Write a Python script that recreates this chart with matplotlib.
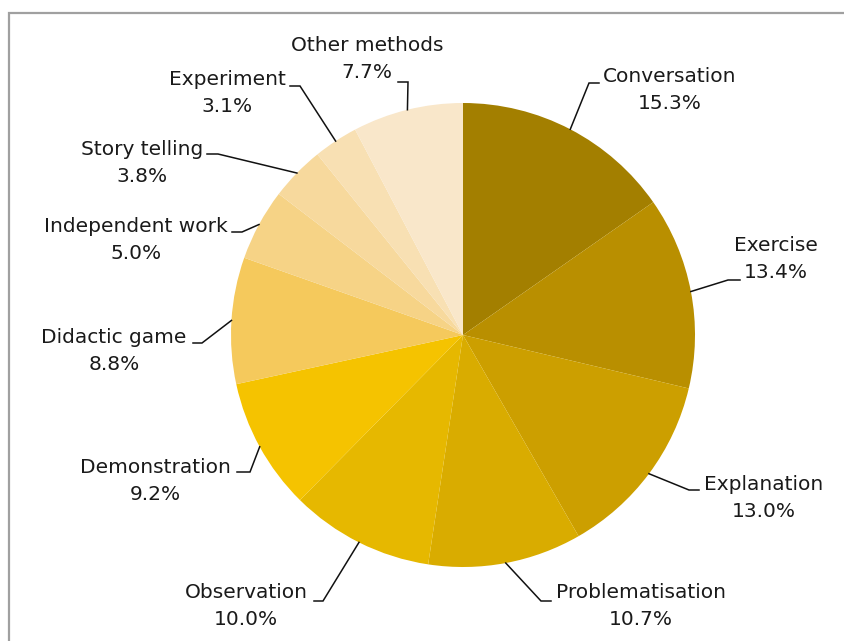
import numpy as np
import matplotlib.pyplot as plt

methods = ["Conversation", "Exercise", "Explanation", "Problematisation",
           "Observation", "Demonstration", "Didactic game", "Independent work",
           "Story telling", "Experiment", "Other methods"]
shares = [15.3, 13.4, 13.0, 10.7, 10.0, 9.2, 8.8, 5.0, 3.8, 3.1, 7.7]
colors = ["#a37f00", "#b98f00", "#cc9f00", "#d9ac00", "#e6b800", "#f5c300",
          "#f5c95c", "#f6d386", "#f7d99d", "#f8e0b3", "#f9e7ca"]

# label layout (pixels from top-left): text centre x, first baseline y,
# elbow point of the leader, x where the short horizontal stub ends
layout = {
    "Conversation":     (670, 82,  (589, 83),  599),
    "Exercise":         (776, 251, (728, 280), 740),
    "Explanation":      (764, 490, (689, 490), 699),
    "Problematisation": (641, 598, (541, 601), 551),
    "Observation":      (246, 598, (323, 601), 314),
    "Demonstration":    (155, 473, (250, 472), 237),
    "Didactic game":    (114, 343, (202, 343), 193),
    "Independent work": (136, 232, (242, 232), 232),
    "Story telling":    (142, 155, (218, 154), 207),
    "Experiment":       (227, 85,  (300, 86),  290),
    "Other methods":    (367, 51,  (408, 82),  398),
}

W, H = 845, 641
cx, cy, R = 463, 335, 232

fig = plt.figure(figsize=(W / 100, H / 100), dpi=100)
ax = fig.add_axes([0, 0, 1, 1])

wedges, _ = ax.pie(shares, colors=colors, startangle=-90, counterclock=True,
                   center=(cx, cy), radius=R,
                   wedgeprops=dict(linewidth=0, antialiased=True))
ax.set_xlim(0, W)
ax.set_ylim(H, 0)
ax.set_aspect("equal")
ax.axis("off")

txt = dict(fontsize=14.5, color="#1a1a1a", family="DejaVu Sans",
           ha="center", va="baseline")

for w, name, val in zip(wedges, methods, shares):
    tx, ty, (ex, ey), sx = layout[name]
    mid = np.deg2rad((w.theta1 + w.theta2) / 2)
    px = cx + R * np.cos(mid)
    py = cy + R * np.sin(mid)
    ax.plot([px, ex, sx], [py, ey, ey], color="#111111", lw=1.1,
            solid_joinstyle="miter")
    ax.text(tx, ty, name, **txt)
    ax.text(tx, ty + 27, f"{val:.1f}%", **txt)

# grey border along the top and left edges
ax.plot([9, 9, W], [H, 13, 13], color="#a0a0a0", lw=1.6,
        solid_joinstyle="miter", clip_on=False)

fig.savefig("out.png", dpi=100, facecolor="white")
